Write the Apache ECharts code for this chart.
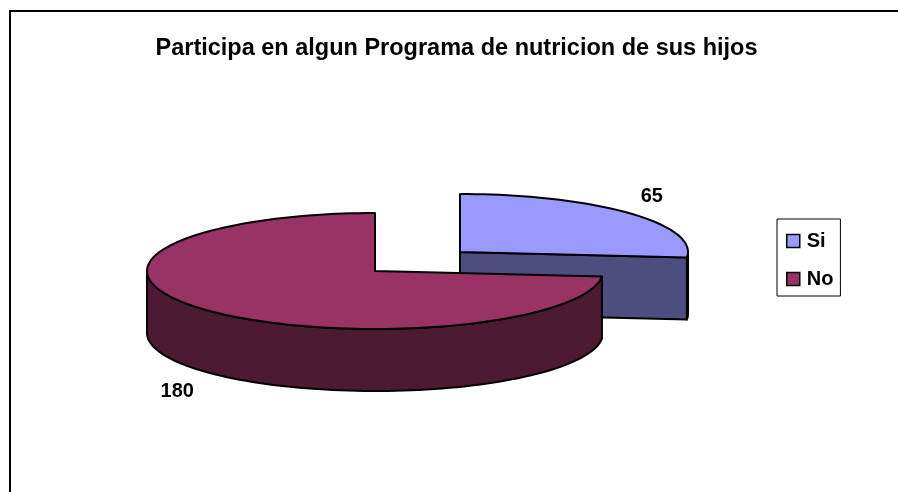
<!DOCTYPE html>
<html><head><meta charset="utf-8">
<style>html,body{margin:0;padding:0;background:#fff}#c{width:898px;height:492px}</style>
<script src="https://cdn.jsdelivr.net/npm/echarts@6/dist/echarts.min.js"></script>
</head><body><div id="c"></div>
<script>
const titleText = 'Participa en algun Programa de nutricion de sus hijos';
const categories = ['Si', 'No'];
const values = [65, 180];
const topColors = ['#9999FF', '#993366'];
const sideColors = ['#4D4D80', '#4D1A33'];
const FONT = '"Liberation Sans",Arial,sans-serif';

// layout of the tilted pie
const RX = 228, RY = 58, DEPTH = 62;
const centers = [[460, 252], [375, 271]];
const labelOffsets = [[23, -17], [-29, 19]];

const total = values.reduce((a, b) => a + b, 0);
const pt = (c, deg, dy) => {
  const r = deg * Math.PI / 180;
  return [c[0] + RX * Math.sin(r), c[1] - RY * Math.cos(r) + (dy || 0)];
};
const arc = (c, a0, a1, dy) => {
  const out = [], n = Math.max(2, Math.ceil(Math.abs(a1 - a0) / 2));
  for (let i = 0; i <= n; i++) out.push(pt(c, a0 + (a1 - a0) * i / n, dy));
  return out;
};
const line = { stroke: '#000', lineWidth: 2, lineJoin: 'round' };

function renderSlice(params, api) {
  const idx = params.seriesIndex;
  const val = api.value(0);
  let before = 0;
  for (let i = 0; i < idx; i++) before += values[i];
  const a0 = before / total * 360, a1 = (before + val) / total * 360;
  const c = centers[idx];
  const children = [];
  const poly = (points, fill) => children.push({
    type: 'polygon', shape: { points }, style: Object.assign({ fill }, line)
  });
  const side = sideColors[idx];
  // front-facing cut wall of the first slice end edge
  if (a1 < 180) {
    const e = pt(c, a1), eb = pt(c, a1, DEPTH);
    poly([c, e, eb, [c[0], c[1] + DEPTH]], side);
  }
  // visible part of the outer rim (front half of the ellipse)
  const r0 = Math.max(a0, 90), r1 = Math.min(a1, 270);
  if (r1 > r0) {
    poly(arc(c, r0, r1, 0).concat(arc(c, r1, r0, DEPTH)), side);
  }
  // top face
  poly([c].concat(arc(c, a0, a1, 0)), topColors[idx]);
  // value label
  const mid = (a0 + a1) / 2;
  const cosM = Math.cos(mid * Math.PI / 180);
  const p = pt(c, mid, cosM < 0 ? DEPTH : 0);
  children.push({
    type: 'text',
    style: {
      x: p[0] + labelOffsets[idx][0], y: p[1] + labelOffsets[idx][1],
      text: String(val), fill: '#000', align: 'center', verticalAlign: 'middle',
      font: 'bold 20px ' + FONT
    }
  });
  return { type: 'group', children };
}

const chart = echarts.init(document.getElementById('c'), null, { renderer: 'canvas' });
chart.setOption({
  animation: false,
  backgroundColor: '#fff',
  title: {
    text: titleText, left: 451.5, top: 32, textAlign: 'center',
    textStyle: { fontFamily: FONT, fontSize: 23.5, fontWeight: 'bold', color: '#000' }
  },
  legend: {
    orient: 'vertical', left: 777, top: 219, width: 63, padding: [12, 7, 7, 9], itemGap: 18,
    itemWidth: 13, itemHeight: 13, icon: 'rect',
    borderColor: '#000', borderWidth: 1, backgroundColor: '#fff',
    textStyle: { fontFamily: FONT, fontSize: 20, fontWeight: 'bold', color: '#000', padding: [0, 0, 0, 2] },
    data: categories.map((name, i) => ({
      name, itemStyle: { color: topColors[i], borderColor: '#000', borderWidth: 1.5 }
    }))
  },
  graphic: [{
    type: 'polyline', silent: true,
    shape: { points: [[10, 492], [10, 11], [898, 11]] },
    style: { stroke: '#000', lineWidth: 2, fill: null }
  }],
  series: categories.map((name, i) => ({
    type: 'custom', name, coordinateSystem: 'none', silent: true,
    itemStyle: { color: topColors[i] },
    data: [[values[i]]],
    renderItem: renderSlice
  }))
});
</script></body></html>
